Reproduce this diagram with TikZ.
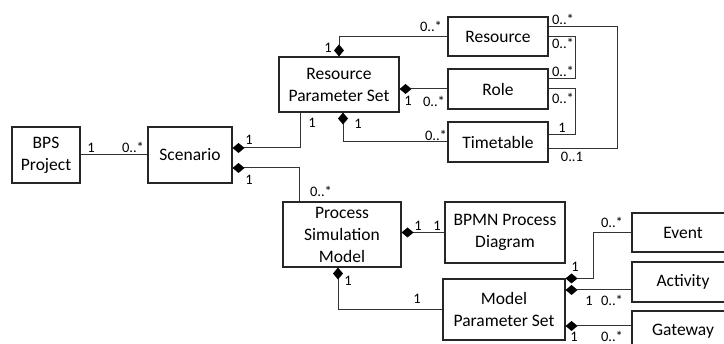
\documentclass[tikz,border=0pt]{standalone}
\usepackage{fontspec}
\setmainfont{Carlito}
\usetikzlibrary{arrows.meta}
\tikzset{
  box/.style={draw=black!85, line width=1.1pt, inner sep=0pt, align=center,
    font=\fontsize{17.5}{22}\selectfont},
  lbl/.style={inner sep=0pt, font=\fontsize{14.5}{16}\selectfont},
  conn/.style={draw=black!80, line width=1pt},
  comp/.style={conn, {Diamond[length=12pt,width=10pt,fill=black,line width=0pt]}-},
}
\begin{document}
\begin{tikzpicture}[x=1pt,y=-1pt]
\useasboundingbox (0,0) rectangle (724,344);
\clip (0,0) rectangle (724,344);
\fill[white] (0,0) rectangle (724,344);
% boxes
\node[box, minimum width=68pt, minimum height=56pt] (bps) at (46,155) {BPS\\Project};
\node[box, minimum width=84pt, minimum height=56pt] (scen) at (190,155) {Scenario};
\node[box, minimum width=120pt, minimum height=55pt] (rps) at (339,84.5) {Resource\\Parameter Set};
\node[box, minimum width=100pt, minimum height=39pt] (res) at (498,36.5) {Resource};
\node[box, minimum width=100pt, minimum height=40pt] (role) at (498,89) {Role};
\node[box, minimum width=100pt, minimum height=40pt] (tt) at (498,142) {Timetable};
\node[box, minimum width=118pt, minimum height=65pt] (psm) at (342,234.5) {Process\\Simulation\\Model};
\node[box, minimum width=120pt, minimum height=61pt] (bpmn) at (505,232.5) {BPMN Process\\Diagram};
\node[box, minimum width=122pt, minimum height=61pt] (mps) at (504,309.5) {Model\\Parameter Set};
\node[box, minimum width=102pt, minimum height=39pt] (ev) at (683,232.5) {Event};
\node[box, minimum width=102pt, minimum height=40pt] (act) at (683,282) {Activity};
\node[box, minimum width=102pt, minimum height=40pt] (gw) at (683,331) {Gateway};
% connectors
\draw[conn] (bps.east) -- (scen.west);
\draw[comp] ([yshift=7pt]scen.east) -| ([xshift=22pt]rps.south west);
\draw[comp] ([yshift=-13pt]scen.east) -| ([xshift=17pt]psm.north west);
\draw[comp] (rps.north) |- (res.west);
\draw[comp] (rps.east |- role.west) -- (role.west);
\draw[comp] ([xshift=4pt]rps.south) |- (tt.west);
\draw[conn] ([yshift=9.5pt]res.east) -| ++(69,0) |- ([yshift=-7pt]tt.east);
\draw[conn] ([yshift=-0.5pt]res.east) -| ++(27,0) |- ([yshift=10pt]role.east);
\draw[conn] (role.east) -| ++(27,0) |- ([yshift=7pt]tt.east);
\draw[comp] (psm.east |- bpmn.west) -- (bpmn.west);
\draw[comp] ([xshift=-4pt]psm.south) |- ([yshift=-0.5pt]mps.west);
\draw[comp] (mps.north east) -| ++(28,0) |- (ev.west);
\draw[comp] ([yshift=19.5pt]mps.east) -- ([yshift=-8pt]act.west);
\draw[comp] ([yshift=-16.5pt]mps.east) -- ([yshift=5pt]gw.west);
% labels
\node[lbl] (l1) at (91,148) {1};
\node[lbl] (l2) at (133,147) {0..*};
\node[lbl] (l3) at (249,140) {1};
\node[lbl] (l4) at (249,180) {1};
\node[lbl] (l5) at (312,123) {1};
\node[lbl] (l6) at (321,191) {0..*};
\node[lbl] (l7) at (328,48) {1};
\node[lbl] (l8) at (431,26) {0..*};
\node[lbl] (l9) at (408,101) {1};
\node[lbl] (l10) at (434,101) {0..*};
\node[lbl] (l11) at (358,124) {1};
\node[lbl] (l12) at (436,135) {0..*};
\node[lbl] (l13) at (563,19) {0..*};
\node[lbl] (l14) at (563,43) {0..*};
\node[lbl] (l15) at (563,71) {0..*};
\node[lbl] (l16) at (563,98) {0..*};
\node[lbl] (l17) at (562,128) {1};
\node[lbl] (l18) at (572,157) {0..1};
\node[lbl] (l19) at (418,226) {1};
\node[lbl] (l20) at (437,226) {1};
\node[lbl] (l21) at (348,281) {1};
\node[lbl] (l22) at (417,299) {1};
\node[lbl] (l23) at (575,267) {1};
\node[lbl] (l24) at (612,222) {0..*};
\node[lbl] (l25) at (589,301) {1};
\node[lbl] (l26) at (612,300) {0..*};
\node[lbl] (l27) at (574,336.5) {1};
\node[lbl] (l28) at (612,336.5) {0..*};
\end{tikzpicture}
\end{document}
